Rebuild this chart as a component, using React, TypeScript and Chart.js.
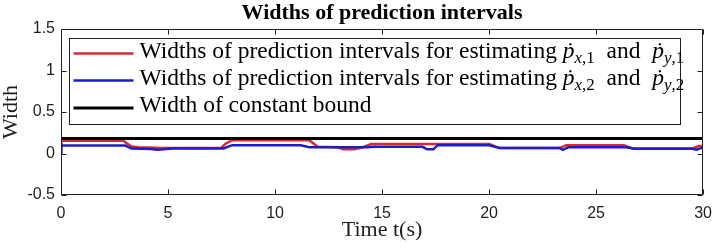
import React, { useEffect, useRef } from 'react';
import { Chart, registerables } from 'chart.js';

Chart.register(...registerables);

const SERIF = '"Liberation Serif", "Times New Roman", serif';
const SANS = '"Liberation Sans", Arial, sans-serif';
const INK = '#1e1e1e';

const titleText = 'Widths of prediction intervals';
const xLabel = 'Time t(s)';
const yLabel = 'Width';

const xTicks = [0, 5, 10, 15, 20, 25, 30];
const yTicks = [-0.5, 0, 0.5, 1, 1.5];

const redTime = [0, 0.02, 2.9, 3.3, 3.6, 4.5, 6.5, 7.5, 7.7, 8.0, 11.6, 12.0, 12.9, 13.2, 13.7, 14.1, 14.5, 20.0, 20.5, 23.3, 23.6, 26.3, 26.7, 29.5, 29.8, 30];
const redWidth = [0.1, 0.155, 0.155, 0.085, 0.075, 0.068, 0.065, 0.07, 0.12, 0.16, 0.16, 0.08, 0.075, 0.05, 0.05, 0.075, 0.115, 0.115, 0.065, 0.065, 0.1, 0.1, 0.06, 0.06, 0.09, 0.09];

const blueTime = [0, 0.02, 3.0, 3.3, 4.2, 4.5, 4.8, 5.2, 7.6, 8.0, 11.2, 11.6, 14.3, 14.6, 16.9, 17.1, 17.4, 17.6, 20.0, 20.5, 23.3, 23.45, 23.7, 26.4, 26.8, 29.5, 29.7, 29.9, 30];
const blueWidth = [0, 0.095, 0.095, 0.06, 0.055, 0.045, 0.05, 0.06, 0.06, 0.1, 0.1, 0.075, 0.075, 0.08, 0.08, 0.05, 0.05, 0.1, 0.1, 0.065, 0.065, 0.045, 0.075, 0.075, 0.058, 0.058, 0.045, 0.065, 0.07];

const boundTime = [0, 30];
const boundWidth = [0.18, 0.18];

// legend rows: [text, style] ; n = normal, i = italic, s = subscript, si = subscript italic
const legendRow1: [string, string][] = [
  ['Widths of prediction intervals for estimating ', 'n'],
  ['ṗ', 'i'], ['x', 'si'], [',1', 's'], ['  and  ', 'n'],
  ['ṗ', 'i'], ['y', 'si'], [',1', 's'],
];
const legendRow2: [string, string][] = [
  ['Widths of prediction intervals for estimating ', 'n'],
  ['ṗ', 'i'], ['x', 'si'], [',2', 's'], ['  and  ', 'n'],
  ['ṗ', 'i'], ['y', 'si'], [',2', 's'],
];
const legendRow3: [string, string][] = [['Width of constant bound', 'n']];

const RED = '#d62a30';
const BLUE = '#1c1cc8';
const BLACK = '#000000';

const legendRows = [legendRow1, legendRow2, legendRow3];
const legendColors = [RED, BLUE, BLACK];

function toPoints(t: number[], w: number[]) {
  return t.map((x, i) => ({ x, y: w[i] }));
}

const framePlugin = {
  id: 'frame',
  afterDatasetsDraw(chart: any) {
    const { ctx, chartArea: a, scales } = chart;
    const L = Math.round(a.left) + 0.5;
    const R = Math.round(a.right) - 0.5;
    const T = Math.round(a.top) + 0.5;
    const B = Math.round(a.bottom) - 0.5;
    ctx.save();
    ctx.strokeStyle = INK;
    ctx.lineWidth = 1;
    ctx.beginPath();
    ctx.rect(L, T, R - L, B - T);
    const tl = 5;
    for (const v of xTicks) {
      const px = Math.round(scales.x.getPixelForValue(v)) + 0.5;
      ctx.moveTo(px, B); ctx.lineTo(px, B - tl);
      ctx.moveTo(px, T); ctx.lineTo(px, T + tl);
    }
    for (const v of yTicks) {
      const py = Math.round(scales.y.getPixelForValue(v)) + 0.5;
      ctx.moveTo(L, py); ctx.lineTo(L + tl, py);
      ctx.moveTo(R, py); ctx.lineTo(R - tl, py);
    }
    ctx.stroke();
    ctx.restore();
  },
  afterDraw(chart: any) {
    const { ctx, chartArea: a } = chart;
    const left = Math.round(a.left) + 8.5;
    const top = Math.round(a.top) + 9.5;
    const right = Math.round(a.right) - 22.5;
    const bottom = Math.round(a.top) + 95.5;
    ctx.save();
    ctx.fillStyle = '#ffffff';
    ctx.fillRect(left, top, right - left, bottom - top);
    ctx.strokeStyle = INK;
    ctx.lineWidth = 1;
    ctx.strokeRect(left, top, right - left, bottom - top);
    const baselines = [19, 46, 73.5];
    legendRows.forEach((row, i) => {
      const base = top + baselines[i];
      ctx.strokeStyle = legendColors[i];
      ctx.lineWidth = i === 2 ? 3 : 2.5;
      ctx.beginPath();
      ctx.moveTo(left + 4, base - 4);
      ctx.lineTo(left + 64, base - 4);
      ctx.stroke();
      let x = left + 70;
      ctx.fillStyle = '#000';
      ctx.textBaseline = 'alphabetic';
      ctx.textAlign = 'left';
      for (const [text, style] of row) {
        let dy = 0;
        if (style === 'n') ctx.font = `23.5px ${SERIF}`;
        else if (style === 'i') ctx.font = `italic 23.5px ${SERIF}`;
        else if (style === 'si') { ctx.font = `italic 17px ${SERIF}`; dy = 5; }
        else { ctx.font = `17px ${SERIF}`; dy = 5; }
        ctx.fillText(text, x, base + dy);
        x += ctx.measureText(text).width;
      }
    });
    ctx.restore();
  },
};

export default function App() {
  const ref = useRef<HTMLCanvasElement | null>(null);
  useEffect(() => {
    document.body.style.margin = '0';
    const canvas = ref.current;
    if (!canvas) return;
    const chart = new Chart(canvas, {
      type: 'line',
      data: {
        datasets: [
          { label: 'red', data: toPoints(redTime, redWidth), borderColor: RED, borderWidth: 2.5, pointRadius: 0, tension: 0, order: 2 },
          { label: 'blue', data: toPoints(blueTime, blueWidth), borderColor: BLUE, borderWidth: 2.5, pointRadius: 0, tension: 0, order: 1 },
          { label: 'bound', data: toPoints(boundTime, boundWidth), borderColor: BLACK, borderWidth: 3, pointRadius: 0, tension: 0, order: 0 },
        ],
      },
      options: {
        responsive: false,
        animation: false,
        events: [],
        layout: { padding: { left: 0, right: 10, top: 0, bottom: 0 } },
        plugins: {
          legend: { display: false },
          tooltip: { enabled: false },
          title: {
            display: true,
            fullSize: false,
            text: titleText,
            color: '#000',
            font: { family: SERIF, size: 22, weight: 'bold' },
            padding: { top: 0, bottom: 2.6 },
          },
        },
        scales: {
          x: {
            type: 'linear',
            min: 0,
            max: 30,
            afterFit: (s: any) => { s.height = 54; },
            afterBuildTicks: (s: any) => { s.ticks = xTicks.map((v) => ({ value: v })); },
            ticks: { font: { family: SANS, size: 16 }, color: INK, padding: 9, maxRotation: 0, autoSkip: false, callback: (v: any) => String(v) },
            grid: { display: false, drawTicks: false, tickLength: 0 },
            border: { display: false },
            title: { display: true, text: xLabel, color: INK, font: { family: SERIF, size: 22 }, padding: { top: 0, bottom: 5.5 } },
          },
          y: {
            type: 'linear',
            min: -0.5,
            max: 1.5,
            afterFit: (s: any) => { s.width = 61; },
            afterBuildTicks: (s: any) => { s.ticks = yTicks.map((v) => ({ value: v })); },
            ticks: { font: { family: SANS, size: 16 }, color: INK, padding: 6, autoSkip: false, callback: (v: any) => String(v) },
            grid: { display: false, drawTicks: false, tickLength: 0 },
            border: { display: false },
            title: { display: true, text: yLabel, color: INK, font: { family: SERIF, size: 22 }, padding: { top: -2, bottom: 0 } },
          },
        },
      },
      plugins: [framePlugin],
    } as any);
    return () => chart.destroy();
  }, []);
  return (
    <div style={{ width: 721, height: 249, background: '#fff' }}>
      <canvas ref={ref} width={721} height={249} style={{ display: 'block', width: 721, height: 249 }} />
    </div>
  );
}
